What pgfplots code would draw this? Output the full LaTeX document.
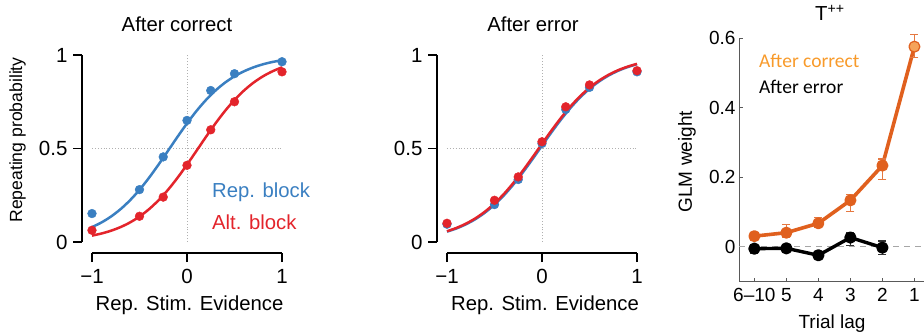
\documentclass[border=0pt]{standalone}
\usepackage{fontspec}
\setmainfont{Liberation Sans}
\newfontfamily\calib{Carlito}
\usepackage{pgfplots}
\pgfplotsset{compat=1.18}

\definecolor{repblue}{HTML}{3A7FC1}
\definecolor{altred}{HTML}{E3242B}
\definecolor{lagorange}{HTML}{E0601E}
\definecolor{lightorange}{HTML}{F5A35A}
\definecolor{legorange}{HTML}{F89A2A}
\definecolor{refgray}{HTML}{B0B0B0}

\newcommand{\txt}{\fontsize{20.3}{24}\selectfont}
\newcommand{\ticktxt}{\fontsize{20.5}{24}\selectfont}
\newcommand{\ytxt}{\fontsize{17.6}{21}\selectfont}

\pgfplotsset{
  psycho/.style={
    scale only axis, width=200pt, height=198pt,
    xmin=-1.105, xmax=1, ymin=-0.059, ymax=1,
    clip=false,
    axis x line*=bottom, axis y line*=left,
    axis line style={draw=none},
    tick align=outside, major tick length=9pt,
    every tick/.style={black, line width=1.4pt},
    xtick={-1,0,1}, xticklabels={−1,0,1},
    ytick={0,0.5,1}, yticklabels={0,0.5,1},
    tick label style={font=\ticktxt},
    xticklabel style={yshift=-4pt},
    yticklabel style={xshift=-2pt},
  },
  fit/.style={line width=2.5pt, smooth, no marks},
  pts/.style={only marks, mark=*, mark size=4.4pt},
}

\begin{document}
\begin{tikzpicture}
\path[use as bounding box] (0,0) rectangle (924pt,335pt);

% ---------------- After correct ----------------
\begin{axis}[psycho, at={(82pt,82pt)}, anchor=south west]
  \draw[refgray, dotted, line width=0.9pt] (axis cs:0,0) -- (axis cs:0,1);
  \draw[refgray, dotted, line width=0.9pt] (axis cs:-1,0.5) -- (axis cs:1,0.5);
  \draw[black, line width=1.4pt] (axis cs:-1.105,0) -- (axis cs:-1.105,1);
  \draw[black, line width=1.4pt] (axis cs:-1,-0.059) -- (axis cs:1,-0.059);
  % repetitive block
  \addplot[fit, repblue] coordinates {
    (-1,0.0794) (-0.9,0.1043) (-0.8,0.1359) (-0.7,0.1751) (-0.6,0.2227)
    (-0.5,0.2789) (-0.4,0.3430) (-0.3,0.4134) (-0.2,0.4875) (-0.1,0.5622)
    (0,0.6341) (0.1,0.7006) (0.2,0.7595) (0.3,0.8100) (0.4,0.8520)
    (0.5,0.8860) (0.6,0.9129) (0.7,0.9340) (0.8,0.9503) (0.9,0.9627) (1,0.9721)};
  \addplot[pts, repblue] coordinates {
    (-1,0.152) (-0.5,0.28) (-0.25,0.455) (0,0.65) (0.25,0.81) (0.5,0.90) (1,0.964)};
  % alternating block
  \addplot[fit, altred] coordinates {
    (-1,0.0339) (-0.9,0.0452) (-0.8,0.0601) (-0.7,0.0794) (-0.6,0.1043)
    (-0.5,0.1359) (-0.4,0.1751) (-0.3,0.2227) (-0.2,0.2789) (-0.1,0.3430)
    (0,0.4134) (0.1,0.4875) (0.2,0.5622) (0.3,0.6341) (0.4,0.7006)
    (0.5,0.7595) (0.6,0.8100) (0.7,0.8520) (0.8,0.8860) (0.9,0.9129) (1,0.9340)};
  \addplot[pts, altred] coordinates {
    (-1,0.0625) (-0.5,0.1375) (-0.25,0.24) (0,0.41) (0.25,0.60) (0.5,0.75) (1,0.91)};
\end{axis}

\node[font=\txt] at (177pt,311pt) {After correct};
\node[font=\txt] at (189.5pt,30pt) {Rep. Stim. Evidence};
\node[font=\ytxt, rotate=90] at (17.5pt,195pt) {Repeating probability};
\node[font=\txt, text=repblue, anchor=west, inner sep=0pt] at (212pt,143pt) {Rep. block};
\node[font=\txt, text=altred, anchor=west, inner sep=0pt] at (212pt,113pt) {Alt. block};

% ---------------- After error ----------------
\begin{axis}[psycho, at={(437pt,82pt)}, anchor=south west]
  \draw[refgray, dotted, line width=0.9pt] (axis cs:0,0) -- (axis cs:0,1);
  \draw[refgray, dotted, line width=0.9pt] (axis cs:-1,0.5) -- (axis cs:1,0.5);
  \draw[black, line width=1.4pt] (axis cs:-1.105,0) -- (axis cs:-1.105,1);
  \draw[black, line width=1.4pt] (axis cs:-1,-0.059) -- (axis cs:1,-0.059);
  \addplot[fit, repblue] coordinates {
    (-1,0.0552) (-0.9,0.0724) (-0.8,0.0945) (-0.7,0.1224) (-0.6,0.1571)
    (-0.5,0.1994) (-0.4,0.2497) (-0.3,0.3079) (-0.2,0.3729) (-0.1,0.4427)
    (0,0.5150) (0.1,0.5866) (0.2,0.6547) (0.3,0.7170) (0.4,0.7721)
    (0.5,0.8191) (0.6,0.8581) (0.7,0.8899) (0.8,0.9153) (0.9,0.9352) (1,0.9507)};
  \addplot[pts, repblue] coordinates {
    (-1,0.095) (-0.5,0.20) (-0.25,0.334) (0,0.527) (0.25,0.709) (0.5,0.827) (1,0.91)};
  \addplot[fit, altred] coordinates {
    (-1,0.0573) (-0.9,0.0752) (-0.8,0.0980) (-0.7,0.1267) (-0.6,0.1625)
    (-0.5,0.2059) (-0.4,0.2573) (-0.3,0.3165) (-0.2,0.3823) (-0.1,0.4526)
    (0,0.5250) (0.1,0.5963) (0.2,0.6637) (0.3,0.7251) (0.4,0.7790)
    (0.5,0.8250) (0.6,0.8630) (0.7,0.8938) (0.8,0.9184) (0.9,0.9376) (1,0.9526)};
  \addplot[pts, altred] coordinates {
    (-1,0.10) (-0.5,0.223) (-0.25,0.348) (0,0.536) (0.25,0.723) (0.5,0.84) (1,0.916)};
\end{axis}

\node[font=\txt] at (533pt,311pt) {After error};
\node[font=\txt] at (545pt,30pt) {Rep. Stim. Evidence};

% ---------------- GLM weights ----------------
\begin{axis}[
  scale only axis, width=185pt, height=243.4pt,
  at={(739pt,53.3pt)}, anchor=south west,
  xmin=-0.48, xmax=5.3, ymin=-0.1, ymax=0.6,
  clip=false,
  axis x line*=bottom, axis y line*=left,
  axis line style={black!65, line width=1pt},
  tick align=inside, major tick length=4pt,
  every tick/.style={black!65, line width=1pt},
  xtick={0,1,2,3,4,5}, xticklabels={6–10,5,4,3,2,1},
  ytick={0,0.2,0.4,0.6}, yticklabels={0,0.2,0.4,0.6},
  tick label style={font=\fontsize{19}{23}\selectfont},
  xticklabel style={yshift=-3pt},
]
  \draw[black!35, dashed, dash pattern=on 6pt off 5pt, line width=1pt]
    (axis cs:-0.48,0) -- (axis cs:5.3,0);
  \addplot[lagorange, line width=3.6pt, line join=round, mark=*, mark size=4.2pt,
    error bars/.cd, y dir=both, y explicit,
    error bar style={line width=1.2pt, lagorange!85!white},
    error mark options={rotate=90, line width=1.2pt, mark size=4pt, lagorange!85!white}]
  coordinates {
    (0,0.031) += (0,0.010) -= (0,0.011)
    (1,0.041) += (0,0.024) -= (0,0.015)
    (2,0.068) += (0,0.016) -= (0,0.013)
    (3,0.134) += (0,0.017) -= (0,0.033)
    (4,0.234) += (0,0.019) -= (0,0.040)
    (5,0.576) += (0,0.035) -= (0,0.031)};
  \addplot[only marks, mark=*, mark size=4.4pt, lightorange] coordinates {(5,0.576)};
  \addplot[black, line width=3.4pt, line join=round, mark=*, mark size=4.4pt,
    error bars/.cd, y dir=both, y explicit,
    error bar style={line width=1.2pt, black!80},
    error mark options={rotate=90, line width=1.2pt, mark size=4pt, black!80}]
  coordinates {
    (0,-0.005) +- (0,0.013)
    (1,-0.004) +- (0,0.012)
    (2,-0.024) +- (0,0.008)
    (3,0.027) += (0,0.015) -= (0,0.022)
    (4,-0.002) +- (0,0.019)};
\end{axis}

\node[font=\txt, anchor=west, inner sep=0pt] at (815pt,322pt) {T\textsuperscript{++}};
\node[font=\fontsize{19}{23}\selectfont, rotate=90] at (687pt,173.3pt) {GLM weight};
\node[font=\fontsize{19}{23}\selectfont] at (832pt,11pt) {Trial lag};
\node[font=\calib\fontsize{19.5}{23}\selectfont, text=legorange, anchor=west, inner sep=0pt] at (759pt,274pt) {After correct};
\node[font=\calib\fontsize{19.5}{23}\selectfont, anchor=west, inner sep=0pt] at (759pt,248pt) {After error};
\end{tikzpicture}
\end{document}
